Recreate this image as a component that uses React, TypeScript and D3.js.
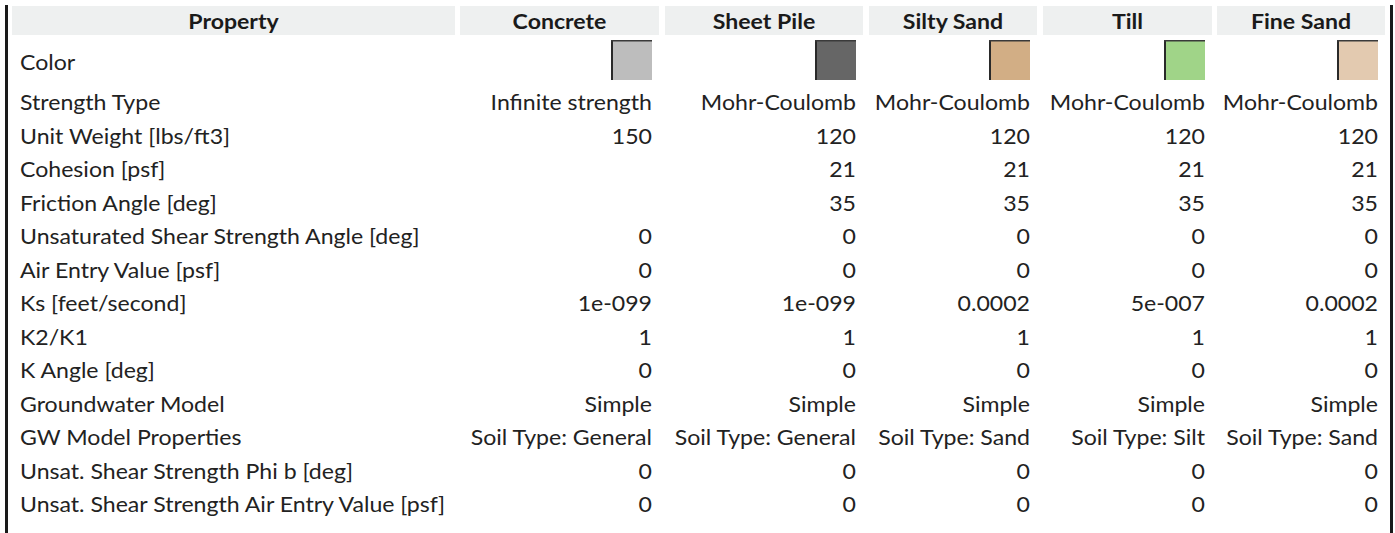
import React from "react";
import * as d3 from "d3";

const materials = ["Concrete", "Sheet Pile", "Silty Sand", "Till", "Fine Sand"];
const materialColors = ["#bdbdbd", "#666666", "#d2ae85", "#a0d488", "#e3cab0"];

const properties = [
  "Strength Type",
  "Unit Weight [lbs/ft3]",
  "Cohesion [psf]",
  "Friction Angle [deg]",
  "Unsaturated Shear Strength Angle [deg]",
  "Air Entry Value [psf]",
  "Ks [feet/second]",
  "K2/K1",
  "K Angle [deg]",
  "Groundwater Model",
  "GW Model Properties",
  "Unsat. Shear Strength Phi b [deg]",
  "Unsat. Shear Strength Air Entry Value [psf]",
];

const concrete = ["Infinite strength", "150", "", "", "0", "0", "1e-099", "1", "0", "Simple", "Soil Type: General", "0", "0"];
const sheetPile = ["Mohr-Coulomb", "120", "21", "35", "0", "0", "1e-099", "1", "0", "Simple", "Soil Type: General", "0", "0"];
const siltySand = ["Mohr-Coulomb", "120", "21", "35", "0", "0", "0.0002", "1", "0", "Simple", "Soil Type: Sand", "0", "0"];
const till = ["Mohr-Coulomb", "120", "21", "35", "0", "0", "5e-007", "1", "0", "Simple", "Soil Type: Silt", "0", "0"];
const fineSand = ["Mohr-Coulomb", "120", "21", "35", "0", "0", "0.0002", "1", "0", "Simple", "Soil Type: Sand", "0", "0"];

const materialValues = [concrete, sheetPile, siltySand, till, fineSand];

const W = 1395;
const H = 533;
const FONT = "Lato, 'Open Sans', sans-serif";
const FS = 21;
const SX = 1.1;

// layout: column edges [left, right]
const colLeft = [12, 460, 665, 869, 1043, 1217];
const colRight = [455, 659, 863, 1037, 1212, 1385];

function T(props: {
  x: number;
  y: number;
  anchor?: "start" | "middle" | "end";
  bold?: boolean;
  children: React.ReactNode;
}) {
  return (
    <text
      transform={`translate(${props.x},${props.y}) scale(${SX},1)`}
      textAnchor={props.anchor || "start"}
      dominantBaseline="central"
      fontWeight={props.bold ? "bold" : "normal"}
      fontSize={FS}
      fill={props.bold ? "#1a1a1a" : "#222"}
    >
      {props.children}
    </text>
  );
}

export default function App() {
  const y = d3.scalePoint<string>().domain(properties).range([102, 504]);
  const headers = ["Property", ...materials];
  return (
    <div style={{ position: "absolute", left: 0, top: 0 }}>
      <svg width={W} height={H} style={{ display: "block", background: "#fff" }} fontFamily={FONT}>
        {/* borders */}
        <rect x={5} y={5} width={3} height={H - 5} fill="#1a1a1a" />
        <rect x={1390} y={5} width={3} height={H - 5} fill="#1a1a1a" />
        {/* header */}
        {headers.map((h, i) => (
          <g key={h}>
            <rect x={colLeft[i]} y={6} width={colRight[i] - colLeft[i]} height={29} fill="#eef0f0" />
            <T x={(colLeft[i] + colRight[i]) / 2} y={20.5} anchor="middle" bold>
              {h}
            </T>
          </g>
        ))}
        {/* color row */}
        <T x={20} y={62}>
          Color
        </T>
        {materials.map((m, i) => {
          const r = colRight[i + 1] - 7;
          return (
            <g key={m}>
              <rect x={r - 41} y={40} width={41} height={40} fill={materialColors[i]} />
              <rect x={r - 41} y={40} width={2} height={40} fill="#2a2a2a" />
              <rect x={r - 41} y={40} width={41} height={1.5} fill="#3a3a3a" />
            </g>
          );
        })}
        {/* property rows */}
        {properties.map((p, j) => (
          <g key={p}>
            <T x={20} y={y(p)!}>
              {p}
            </T>
            {materialValues.map((vals, i) => (
              <T key={i} x={colRight[i + 1] - 7} y={y(p)!} anchor="end">
                {vals[j]}
              </T>
            ))}
          </g>
        ))}
      </svg>
    </div>
  );
}
